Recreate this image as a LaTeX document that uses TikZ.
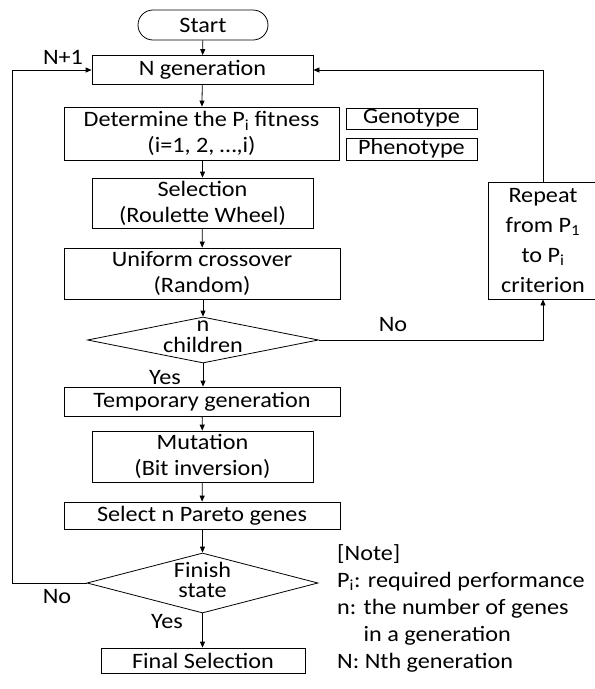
\documentclass[tikz,border=0pt]{standalone}
\usepackage{fontspec}
\setmainfont{Carlito}[FakeStretch=1.1]
\usetikzlibrary{shapes.geometric,shapes.misc,arrows.meta}
\begin{document}
\begin{tikzpicture}[x=1pt,y=-1pt,
  every node/.style={font=\fontsize{22}{26}\selectfont, inner sep=0pt},
  box/.style={draw, line width=0.8pt, align=center},
  dia/.style={draw, line width=0.8pt, diamond, aspect=5},
  lab/.style={font=\fontsize{22}{24}\selectfont},
  arr/.style={draw, line width=0.8pt, -{Triangle[length=6pt,width=5pt]}},
  ln/.style={draw, line width=0.8pt}]
\useasboundingbox (0,0) rectangle (595,689);
\fill[white] (0,0) rectangle (595,689);

\node[box, rounded rectangle, minimum width=130pt, minimum height=30pt] (start) at (203,25) {Start};
\node[box, minimum width=221pt, minimum height=29pt] (ngen) at (202.5,70) {N generation};
\node[box, minimum width=275pt, minimum height=53pt] (det) at (201.5,133.5) {Determine the P\textsubscript{i} fitness\\(i=1, 2, …,i)};
\node[box, minimum width=131pt, minimum height=21pt] (geno) at (411.5,118.5) {Genotype};
\node[box, minimum width=131pt, minimum height=22pt] (pheno) at (411.5,149) {Phenotype};
\node[box, minimum width=221pt, minimum height=50pt] (sel) at (202.5,203) {Selection\\(Roulette Wheel)};
\node[box, minimum width=276pt, minimum height=51pt] (cross) at (202,273.5) {Uniform crossover\\(Random)};
\node[dia, minimum width=231pt, minimum height=46pt] (d1) at (203,340) {};
\node (d1n) at (203,326) {n};
\node (d1c) at (203,345) {children};
\node[box, minimum width=276pt, minimum height=29pt] (temp) at (202,401.5) {Temporary generation};
\node[box, minimum width=221pt, minimum height=51pt] (mut) at (202.5,456.5) {Mutation\\(Bit inversion)};
\node[box, minimum width=276pt, minimum height=27pt] (par) at (202,515.5) {Select n Pareto genes};
\node[dia, minimum width=231pt, minimum height=60pt] (d2) at (202.5,583) {};
\node (d2a) at (202.5,570) {Finish};
\node (d2b) at (202.5,591) {state};
\node[box, minimum width=204pt, minimum height=25pt] (fin) at (203,660.5) {Final Selection};
\node[box, minimum width=110pt, minimum height=117pt, font=\fontsize{22}{30}\selectfont] (rep) at (543,240.5) {Repeat\\from P\textsubscript{1}\\to P\textsubscript{i}\\criterion};

\node[lab] (np1) at (63,57) {N+1};
\node[lab] (no2) at (57,597) {No};
\node[lab] (yes1) at (165,378) {Yes};
\node[lab] (yes2) at (167,622) {Yes};
\node[lab] (no1) at (393,325) {No};

\node[anchor=north west, align=left, font=\fontsize{22}{27}\selectfont] (note) at (337,544)
 {[Note]\\P\textsubscript{i}: required performance\\n: the number of genes\\\phantom{n: }in a generation\\N: Nth generation};

\coordinate (lx) at (12,583);
\path[arr] (start) -- (ngen);
\path[arr] (ngen) -- (det);
\path[arr] (det.south -| sel.north) -- (sel);
\path[arr] (sel) -- (cross);
\path[arr] (cross.south -| d1.north) -- (d1.north);
\path[arr] (d1.south) -- (temp.north -| d1.south);
\path[arr] (temp) -- (mut);
\path[arr] (mut) -- (par);
\path[arr] (par.south -| d2.north) -- (d2.north);
\path[arr] (d2.south) -- (fin.north -| d2.south);
\path[arr] (d1.east) -| (rep.south);
\path[arr] (rep.north) |- (ngen.east);
\path[arr] (d2.west) -- (lx) |- (ngen.west);
\end{tikzpicture}
\end{document}
